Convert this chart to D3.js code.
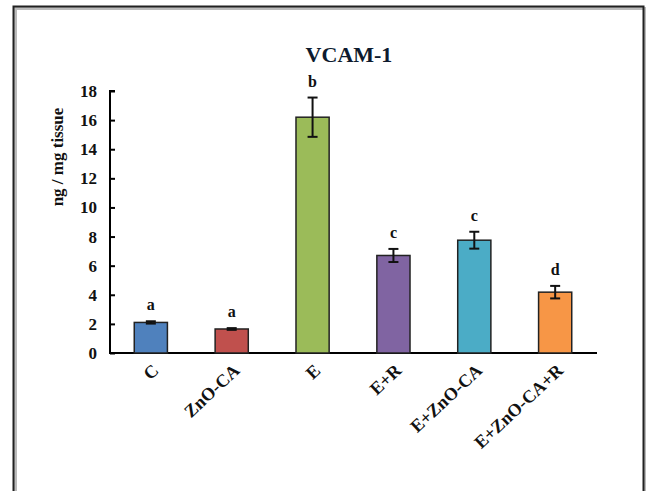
<!DOCTYPE html>
<html>
<head>
<meta charset="utf-8">
<script src="https://cdn.jsdelivr.net/npm/d3@7"></script>
<style>
  body { margin: 0; background: #fff; }
  text { font-family: "Liberation Serif", "Times New Roman", serif; font-weight: bold; }
</style>
</head>
<body>
<script>
// VCAM-1 levels per group

groups = ["C", "ZnO-CA", "E", "E+R", "E+ZnO-CA", "E+ZnO-CA+R"];
means = [2.1, 1.65, 16.2, 6.7, 7.75, 4.18];
errs = [0.08, 0.06, 1.35, 0.45, 0.58, 0.43];
letters = ["a", "a", "b", "c", "c", "d"];
colors = ["#4f81bd", "#c0504d", "#9bbb59", "#8064a2", "#4bacc6", "#f79646"];
yTicks = [0, 2, 4, 6, 8, 10, 12, 14, 16, 18];

let svg = d3.select("body").append("svg")
  .attr("width", 646)
  .attr("height", 491);

// frame with a soft grey inner edge
svg.append("path")
  .attr("d", "M14.5,498 V7.5 H644.5 V498")
  .attr("fill", "none").attr("stroke", "#bbb").attr("stroke-width", 3)
  .attr("transform", "translate(1,1)");
svg.append("path")
  .attr("d", "M13.5,498 V6.5 H643.5 V498")
  .attr("fill", "none").attr("stroke", "#222").attr("stroke-width", 2);

let x = d3.scaleBand()
  .domain(groups)
  .range([110, 596])
  .paddingInner(0.59)
  .paddingOuter(0.3);

let y = d3.scaleLinear()
  .domain([0, 18])
  .range([353, 91]);

// y axis, ticks inside
let yAxis = d3.axisLeft(y).tickValues(yTicks).tickSize(-5).tickPadding(13);
let gy = svg.append("g")
  .attr("transform", "translate(110,0)")
  .call(yAxis);
gy.select(".domain").attr("stroke", "#000").attr("stroke-width", 2)
  .attr("d", "M5,91H0V353");
gy.selectAll(".tick line").attr("stroke", "#000").attr("stroke-width", 2);
gy.selectAll(".tick text")
  .attr("font-size", 17).attr("fill", "#111")
  .attr("font-family", "Liberation Serif").attr("font-weight", "bold");

// x axis line
let xAxis = d3.axisBottom(x).tickSize(0).tickFormat("");
let gx = svg.append("g")
  .attr("transform", "translate(0,353)")
  .call(xAxis);
gx.select(".domain").attr("stroke", "#000").attr("stroke-width", 2)
  .attr("d", "M109,0H597");

// rotated category labels
svg.selectAll(".xlab")
  .data(groups).enter().append("text")
    .attr("class", "xlab")
    .attr("text-anchor", "end")
    .attr("font-size", 18)
    .attr("fill", "#111")
    .attr("transform", (d) => "translate(" + (x(d) + x.bandwidth() / 2 + 9) + ",372) rotate(-43)")
    .text((d) => d);

// bars
svg.selectAll(".bar")
  .data(means).enter().append("rect")
    .attr("class", "bar")
    .attr("x", (d, i) => x(groups[i]))
    .attr("y", (d) => y(d))
    .attr("width", x.bandwidth())
    .attr("height", (d) => y(0) - y(d))
    .attr("fill", (d, i) => colors[i])
    .attr("stroke", "#222")
    .attr("stroke-width", 1.5);

// error bars
let eb = svg.selectAll(".err")
  .data(means).enter().append("g")
    .attr("class", "err")
    .attr("stroke", "#111")
    .attr("stroke-width", 2);
eb.append("line")
  .attr("x1", (d, i) => x(groups[i]) + x.bandwidth() / 2)
  .attr("x2", (d, i) => x(groups[i]) + x.bandwidth() / 2)
  .attr("y1", (d, i) => y(d + errs[i]))
  .attr("y2", (d, i) => y(d - errs[i]));
eb.append("line")
  .attr("x1", (d, i) => x(groups[i]) + x.bandwidth() / 2 - 5)
  .attr("x2", (d, i) => x(groups[i]) + x.bandwidth() / 2 + 5)
  .attr("y1", (d, i) => y(d + errs[i]))
  .attr("y2", (d, i) => y(d + errs[i]));
eb.append("line")
  .attr("x1", (d, i) => x(groups[i]) + x.bandwidth() / 2 - 5)
  .attr("x2", (d, i) => x(groups[i]) + x.bandwidth() / 2 + 5)
  .attr("y1", (d, i) => y(d - errs[i]))
  .attr("y2", (d, i) => y(d - errs[i]));

// significance letters
svg.selectAll(".sig")
  .data(letters).enter().append("text")
    .attr("class", "sig")
    .attr("text-anchor", "middle")
    .attr("font-size", 16)
    .attr("fill", "#111")
    .attr("x", (d, i) => x(groups[i]) + x.bandwidth() / 2)
    .attr("y", (d, i) => y(means[i] + errs[i]) - 11)
    .text((d) => d);

// title
svg.append("text")
  .attr("x", 349).attr("y", 62)
  .attr("text-anchor", "middle")
  .attr("font-size", 22)
  .attr("fill", "#0d1a2e")
  .text("VCAM-1");

// y axis title
svg.append("text")
  .attr("transform", "translate(63,157) rotate(-90)")
  .attr("text-anchor", "middle")
  .attr("font-size", 17)
  .attr("fill", "#111")
  .text("ng / mg tissue");
</script>
</body>
</html>
